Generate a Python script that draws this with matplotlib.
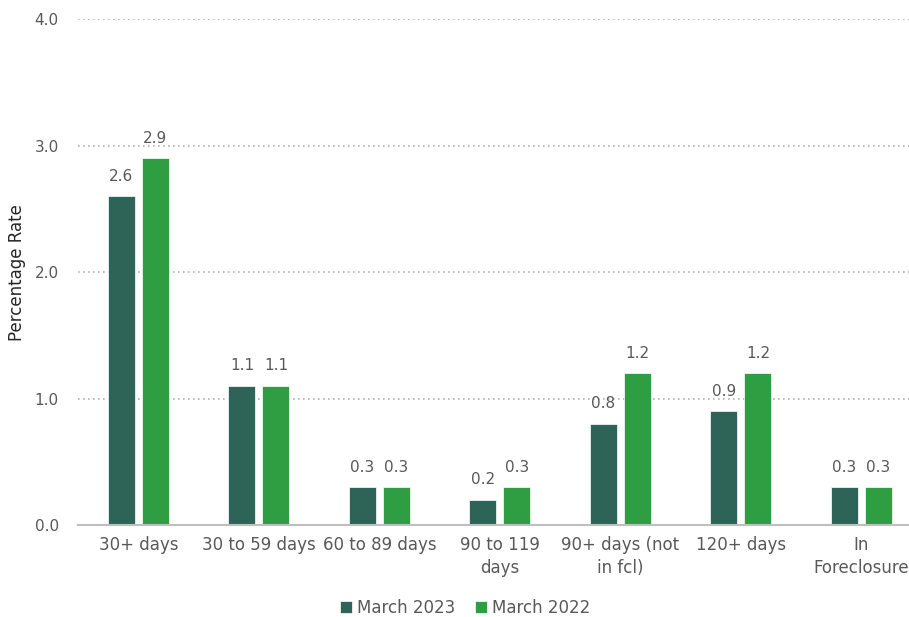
import numpy as np
import matplotlib.pyplot as plt

categories = ['30+ days', '30 to 59 days', '60 to 89 days', '90 to 119\ndays',
              '90+ days (not\nin fcl)', '120+ days', 'In\nForeclosure']
march_2023 = [2.6, 1.1, 0.3, 0.2, 0.8, 0.9, 0.3]
march_2022 = [2.9, 1.1, 0.3, 0.3, 1.2, 1.2, 0.3]
yticks = [0.0, 1.0, 2.0, 3.0, 4.0]

plt.rcParams['font.family'] = ['DejaVu Sans']
text_color = '#595959'
fs = 11      # numbers
fs_words = 12

fig = plt.figure(figsize=(9.09, 6.17), dpi=100)
ax = fig.add_axes([0.086, 0.149, 0.928, 0.82])

x = np.arange(len(categories))
w = 0.224
off = 0.141
b1 = ax.bar(x - off, march_2023, w, color='#2E6358', edgecolor='white',
            linewidth=0.5, label='March 2023', zorder=3)
b2 = ax.bar(x + off, march_2022, w, color='#2F9D42', edgecolor='white',
            linewidth=0.5, label='March 2022', zorder=3)

for bars in (b1, b2):
    ax.bar_label(bars, fmt='%.1f', padding=9, fontsize=fs, color=text_color)

ax.set_xlim(-0.5, len(categories) - 0.5)
ax.set_ylim(0, 4)
ax.set_yticks(yticks)
ax.set_yticklabels(['%.1f' % t for t in yticks])
ax.set_xticks(x)
ax.set_xticklabels(categories, linespacing=1.35, fontsize=fs_words)
ax.tick_params(axis='both', length=0, labelcolor=text_color)
ax.tick_params(axis='y', pad=14, labelsize=fs)
ax.tick_params(axis='x', pad=8)

ax.grid(axis='y', linestyle=(0, (1, 2)), color='#b3b3b3', linewidth=1.2, zorder=0)
for s in ['top', 'right', 'left']:
    ax.spines[s].set_visible(False)
ax.spines['bottom'].set_color('#bfbfbf')
ax.spines['bottom'].set_linewidth(1.5)
ax.spines['bottom'].set_zorder(4)

ax.set_ylabel('Percentage Rate', fontsize=fs_words, color='#262626')
ax.yaxis.set_label_coords(-0.062, 0.5)

fig.legend(handles=[b1, b2], loc='center', bbox_to_anchor=(0.512, 0.015),
           ncol=2, frameon=False, fontsize=fs_words, labelcolor=text_color,
           handlelength=0.7, handleheight=0.7, handletextpad=0.3,
           columnspacing=1.2)

plt.savefig('out.png', dpi=100)
